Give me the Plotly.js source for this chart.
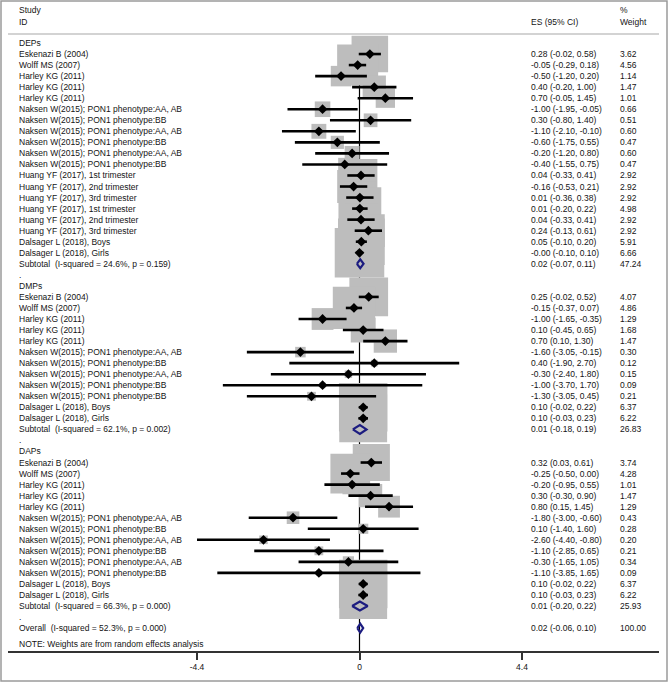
<!DOCTYPE html>
<html><head><meta charset="utf-8">
<script src="https://cdn.plot.ly/plotly-3.0.1.min.js"></script>
<style>html,body{margin:0;padding:0;background:#fff}#chart{width:668px;height:682px}</style>
</head><body><div id="chart"></div>
<script>
// ---------------- data ----------------
const groupNames = ["DEPs", "DMPs", "DAPs"];

const depStudies = ["Eskenazi B (2004)","Wolff MS (2007)","Harley KG (2011)","Harley KG (2011)","Harley KG (2011)",
  "Naksen W(2015); PON1 phenotype:AA, AB","Naksen W(2015); PON1 phenotype:BB","Naksen W(2015); PON1 phenotype:AA, AB",
  "Naksen W(2015); PON1 phenotype:BB","Naksen W(2015); PON1 phenotype:AA, AB","Naksen W(2015); PON1 phenotype:BB",
  "Huang YF (2017), 1st trimester","Huang YF (2017), 2nd trimester","Huang YF (2017), 3rd trimester",
  "Huang YF (2017), 1st trimester","Huang YF (2017), 2nd trimester","Huang YF (2017), 3rd trimester",
  "Dalsager L (2018), Boys","Dalsager L (2018), Girls"];
const depES = [0.28,-0.05,-0.50,0.40,0.70,-1.00,0.30,-1.10,-0.60,-0.20,-0.40,0.04,-0.16,0.01,0.01,0.04,0.24,0.05,-0.00];
const depLo = [-0.02,-0.29,-1.20,-0.20,-0.05,-1.95,-0.80,-2.10,-1.75,-1.20,-1.55,-0.33,-0.53,-0.36,-0.20,-0.33,-0.13,-0.10,-0.10];
const depHi = [0.58,0.18,0.20,1.00,1.45,-0.05,1.40,-0.10,0.55,0.80,0.75,0.41,0.21,0.38,0.22,0.41,0.61,0.20,0.10];
const depW  = [3.62,4.56,1.14,1.47,1.01,0.66,0.51,0.60,0.47,0.60,0.47,2.92,2.92,2.92,4.98,2.92,2.92,5.91,6.66];

const dmpStudies = ["Eskenazi B (2004)","Wolff MS (2007)","Harley KG (2011)","Harley KG (2011)","Harley KG (2011)",
  "Naksen W(2015); PON1 phenotype:AA, AB","Naksen W(2015); PON1 phenotype:BB","Naksen W(2015); PON1 phenotype:AA, AB",
  "Naksen W(2015); PON1 phenotype:BB","Naksen W(2015); PON1 phenotype:BB",
  "Dalsager L (2018), Boys","Dalsager L (2018), Girls"];
const dmpES = [0.25,-0.15,-1.00,0.10,0.70,-1.60,0.40,-0.30,-1.00,-1.30,0.10,0.10];
const dmpLo = [-0.02,-0.37,-1.65,-0.45,0.10,-3.05,-1.90,-2.40,-3.70,-3.05,-0.02,-0.03];
const dmpHi = [0.52,0.07,-0.35,0.65,1.30,-0.15,2.70,1.80,1.70,0.45,0.22,0.23];
const dmpW  = [4.07,4.86,1.29,1.68,1.47,0.30,0.12,0.15,0.09,0.21,6.37,6.22];

const dapStudies = ["Eskenazi B (2004)","Wolff MS (2007)","Harley KG (2011)","Harley KG (2011)","Harley KG (2011)",
  "Naksen W(2015); PON1 phenotype:AA, AB","Naksen W(2015); PON1 phenotype:BB","Naksen W(2015); PON1 phenotype:AA, AB",
  "Naksen W(2015); PON1 phenotype:BB","Naksen W(2015); PON1 phenotype:AA, AB","Naksen W(2015); PON1 phenotype:BB",
  "Dalsager L (2018), Boys","Dalsager L (2018), Girls"];
const dapES = [0.32,-0.25,-0.20,0.30,0.80,-1.80,0.10,-2.60,-1.10,-0.30,-1.10,0.10,0.10];
const dapLo = [0.03,-0.50,-0.95,-0.30,0.15,-3.00,-1.40,-4.40,-2.85,-1.65,-3.85,-0.02,-0.03];
const dapHi = [0.61,0.00,0.55,0.90,1.45,-0.60,1.60,-0.80,0.65,1.05,1.65,0.22,0.23];
const dapW  = [3.74,4.28,1.01,1.47,1.29,0.43,0.28,0.20,0.21,0.34,0.09,6.37,6.22];

// subtotals: ES, lower, upper, weight, I-squared, p
const subES = [0.02, 0.01, 0.01];
const subLo = [-0.07, -0.18, -0.20];
const subHi = [0.11, 0.19, 0.22];
const subW  = [47.24, 26.83, 25.93];
const subI2 = [24.6, 62.1, 66.3];
const subP  = ["0.159", "0.002", "0.000"];

const overallES = 0.02, overallLo = -0.06, overallHi = 0.10, overallW = 100.00;
const overallI2 = 52.3, overallP = "0.000";

const tickVals = [-4.4, 0, 4.4];
const tickText = ["-4.4", "0", "4.4"];
const noteText = "NOTE: Weights are from random effects analysis";

// ---------------- build ----------------
const groups = [
  {name: groupNames[0], s: depStudies, es: depES, lo: depLo, hi: depHi, w: depW},
  {name: groupNames[1], s: dmpStudies, es: dmpES, lo: dmpLo, hi: dmpHi, w: dmpW},
  {name: groupNames[2], s: dapStudies, es: dapES, lo: dapLo, hi: dapHi, w: dapW}
];
const fmt = v => (Object.is(v, -0) ? "-" : "") + v.toFixed(2);
const esStr = (e, l, h) => fmt(e) + " (" + fmt(l) + ", " + fmt(h) + ")";

const W = 668, H = 682;
const mL = 8, mR = 9, mT = 0, mB = 31;
const pw = W - mL - mR, ph = H - mT - mB;
const x0px = 359.5, pxPerUnit = 36.93;
const row0px = 43, rowPx = 11.04;
const xr = [(mL - x0px) / pxPerUnit, (W - mR - x0px) / pxPerUnit];
const yTop = (mT - row0px) / rowPx, yBot = (H - mB - row0px) / rowPx;
const px2paperX = p => (p - mL) / pw;

const font = "Liberation Sans, Arial, sans-serif";
const txtColor = "#141414";
const fs = 8.5;
const annotations = [];
const colLabel = px2paperX(17), colES = px2paperX(529), colW = px2paperX(618);
function addText(xp, y, t) {
  annotations.push({xref: "paper", yref: "y", x: xp, y: y, text: t, showarrow: false,
    xanchor: "left", yanchor: "middle", font: {family: font, size: fs, color: txtColor}});
}

const boxX = [], boxY = [], boxS = [];
const ciX = [], ciY = [];
const ptX = [], ptY = [];
const dX = [], dY = [];
const dh = 0.4;
function addDiamond(e, l, h, r) {
  dX.push(l, e, h, e, l, null);
  dY.push(r, r - dh, r, r + dh, r, null);
}

let r = 0;
groups.forEach((g, gi) => {
  addText(colLabel, r, g.name); r++;
  g.s.forEach((name, i) => {
    addText(colLabel, r, name);
    addText(colES, r, esStr(g.es[i], g.lo[i], g.hi[i]));
    addText(colW, r, g.w[i].toFixed(2));
    boxX.push(g.es[i]); boxY.push(r); boxS.push(19.2 * Math.sqrt(g.w[i]));
    ciX.push(g.lo[i], g.hi[i], null); ciY.push(r, r, null);
    ptX.push(g.es[i]); ptY.push(r);
    r++;
  });
  addText(colLabel, r, "Subtotal  (I-squared = " + subI2[gi].toFixed(1) + "%, p = " + subP[gi] + ")");
  addText(colES, r, esStr(subES[gi], subLo[gi], subHi[gi]));
  addText(colW, r, subW[gi].toFixed(2));
  addDiamond(subES[gi], subLo[gi], subHi[gi], r);
  r++;
  addText(colLabel, r, "."); r++;
});
addText(colLabel, r, "Overall  (I-squared = " + overallI2.toFixed(1) + "%, p = " + overallP + ")");
addText(colES, r, esStr(overallES, overallLo, overallHi));
addText(colW, r, overallW.toFixed(2));
addDiamond(overallES, overallLo, overallHi, r);
addText(colLabel, r + 1.45, noteText);

// header
const hy1 = (10 - row0px) / rowPx, hy2 = (22 - row0px) / rowPx;
addText(colLabel, hy1, "Study");
addText(colLabel, hy2, "ID");
addText(colES, hy2, "ES (95% CI)");
addText(colW, hy1, "%");
addText(colW, hy2, "Weight");

const traces = [
  {type: "scatter", mode: "markers", x: boxX, y: boxY, hoverinfo: "skip",
   marker: {symbol: "square", size: boxS, color: "#bdbdbd", opacity: 1, line: {width: 0}}},
  {type: "scatter", mode: "lines", x: ciX, y: ciY, hoverinfo: "skip",
   line: {color: "#000", width: 2.6}, connectgaps: false},
  {type: "scatter", mode: "markers", x: ptX, y: ptY, hoverinfo: "skip",
   marker: {symbol: "diamond", size: 7.5, color: "#000", opacity: 1, line: {width: 0}}},
  {type: "scatter", mode: "lines", x: dX, y: dY, hoverinfo: "skip",
   line: {color: "#1c1c80", width: 2.2}, connectgaps: false}
];

const layout = {
  width: W, height: H,
  margin: {l: mL, r: mR, t: mT, b: mB},
  paper_bgcolor: "#fff", plot_bgcolor: "#fff",
  showlegend: false,
  xaxis: {range: xr, showgrid: false, zeroline: false, showline: true, linecolor: "#333", linewidth: 2,
    ticks: "outside", ticklen: 7, tickwidth: 2, tickcolor: "#333",
    tickmode: "array", tickvals: tickVals, ticktext: tickText,
    tickfont: {family: font, size: fs, color: txtColor}, fixedrange: true},
  yaxis: {range: [yBot, yTop], visible: false, fixedrange: true},
  annotations: annotations,
  shapes: [
    {type: "line", xref: "x", yref: "y", x0: 0, x1: 0, y0: (37 - row0px) / rowPx, y1: yBot,
     line: {color: "#000", width: 1.2}, layer: "below"},
    {type: "line", xref: "paper", yref: "y", x0: 0, x1: 1, y0: (34 - row0px) / rowPx, y1: (34 - row0px) / rowPx,
     line: {color: "#c4c4c4", width: 1.5}},
    {type: "rect", xref: "paper", yref: "paper",
     x0: (1 - mL) / pw, x1: (667 - mL) / pw, y0: (ph - 681) / ph, y1: (ph - 1) / ph,
     line: {color: "#9a9a9a", width: 1.5}}
  ]
};

Plotly.newPlot("chart", traces, layout, {staticPlot: true, displayModeBar: false});
</script>
</body></html>
